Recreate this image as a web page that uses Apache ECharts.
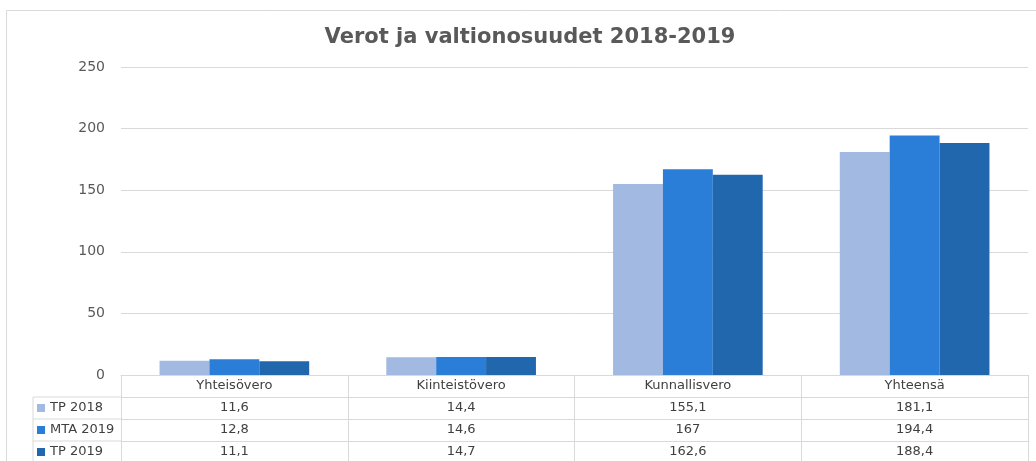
<!DOCTYPE html>
<html>
<head>
<meta charset="utf-8">
<script src="https://cdn.jsdelivr.net/npm/echarts@6/dist/echarts.min.js"></script>
<style>
  html, body { margin: 0; padding: 0; background: #fff; }
  #chart { width: 1036px; height: 461px; }
</style>
</head>
<body>
<div id="chart"></div>
<script>
// data
const categories = ['Yhteisövero', 'Kiinteistövero', 'Kunnallisvero', 'Yhteensä'];
const seriesNames = ['TP 2018', 'MTA 2019', 'TP 2019'];
const tp2018 = [11.6, 14.4, 155.1, 181.1];
const mta2019 = [12.8, 14.6, 167, 194.4];
const tp2019 = [11.1, 14.7, 162.6, 188.4];
const colors = ['#a2b9e2', '#2b7ed7', '#2167ae'];

// layout
const W = 1036, H = 461;
const GRID = { left: 121, right: 8, top: 67, bottom: 86 };
const ROW = 22;
const TABLE_LEFT = 33;
const LINE = '#d9d9d9';
const FONT = '"DejaVu Sans", Verdana, sans-serif';

const allValues = [tp2018, mta2019, tp2019];
const fmt = v => String(v).replace('.', ',');

const chart = echarts.init(document.getElementById('chart'), null, { renderer: 'canvas' });

const axisY = H - GRID.bottom;

// extra x axes that act as the value rows of the data table
const rowAxes = allValues.map((vals, k) => ({
  type: 'category',
  data: categories,
  position: 'bottom',
  offset: ROW * (k + 1),
  axisLine: { show: true, lineStyle: { color: LINE, width: 1 } },
  axisTick: { show: false },
  splitLine: { show: false },
  axisLabel: {
    margin: 4,
    fontFamily: FONT,
    fontSize: 13,
    color: '#404040',
    formatter: (v, i) => fmt(vals[i])
  }
}));

// left column frame of the table (series names column)
const frame = [];
for (let k = 1; k <= 3; k++) {
  frame.push({
    type: 'line',
    shape: { x1: TABLE_LEFT, y1: axisY + ROW * k, x2: GRID.left, y2: axisY + ROW * k },
    style: { stroke: LINE, lineWidth: 1 }
  });
}
frame.push({
  type: 'line',
  shape: { x1: TABLE_LEFT, y1: axisY + ROW, x2: TABLE_LEFT, y2: H },
  style: { stroke: LINE, lineWidth: 1 }
});
// outer chart border
frame.push({
  type: 'rect',
  shape: { x: 6.5, y: 10.5, width: W + 20, height: H + 20 },
  style: { fill: 'none', stroke: LINE, lineWidth: 1 },
  silent: true
});

const option = {
  animation: false,
  backgroundColor: '#fff',
  color: colors,
  title: {
    text: 'Verot ja valtionosuudet 2018-2019',
    left: 525,
    textAlign: 'center',
    top: 22,
    textStyle: { fontFamily: FONT, fontSize: 21, fontWeight: 'bold', color: '#595959' }
  },
  legend: {
    orient: 'vertical',
    left: 37,
    top: axisY + ROW + 4,
    padding: 0,
    itemGap: 8,
    itemWidth: 8,
    itemHeight: 8,
    icon: 'rect',
    data: seriesNames,
    textStyle: { fontFamily: FONT, fontSize: 13, color: '#404040', lineHeight: 14 }
  },
  grid: GRID,
  xAxis: [
    {
      type: 'category',
      data: categories,
      axisLine: { show: true, lineStyle: { color: LINE, width: 1 } },
      axisTick: { show: true, length: GRID.bottom, lineStyle: { color: LINE, width: 1 } },
      splitLine: { show: false },
      axisLabel: { margin: 4, fontFamily: FONT, fontSize: 13, color: '#404040' }
    }
  ].concat(rowAxes),
  yAxis: {
    type: 'value',
    min: 0,
    max: 250,
    interval: 50,
    axisLine: { show: false },
    axisTick: { show: false },
    splitLine: { lineStyle: { color: LINE, width: 1 } },
    axisLabel: { margin: 16, fontFamily: FONT, fontSize: 14, color: '#595959' }
  },
  series: seriesNames.map((name, k) => ({
    name: name,
    type: 'bar',
    xAxisIndex: 0,
    data: allValues[k],
    barGap: 0,
    barCategoryGap: '34%',
    itemStyle: { color: colors[k] }
  })),
  graphic: frame
};

chart.setOption(option);
</script>
</body>
</html>
